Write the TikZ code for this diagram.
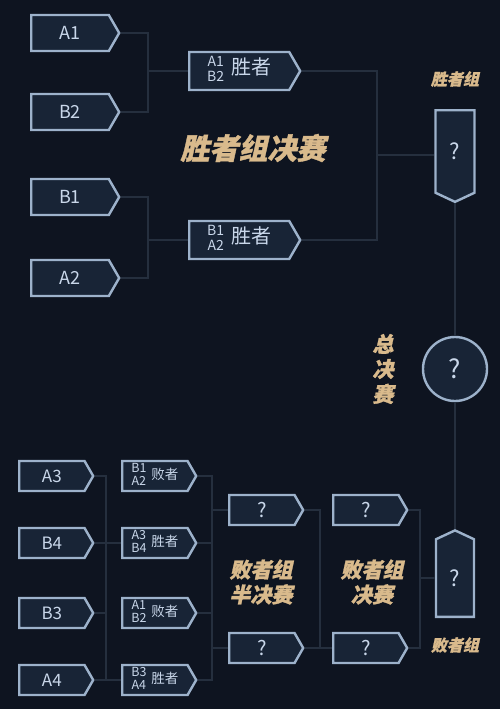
\documentclass[tikz,border=0pt]{standalone}
\usepackage{fontspec}
\setmainfont{Noto Sans CJK SC}
\newfontfamily\headfont[FakeSlant=0.22,BoldFeatures={FakeBold=1.2}]{Noto Sans CJK SC}
\usetikzlibrary{shapes.symbols}
\definecolor{night}{HTML}{0E1420}
\definecolor{slab}{HTML}{182436}
\definecolor{frost}{HTML}{9DB2CB}
\definecolor{wire}{HTML}{252F3E}
\definecolor{ink}{HTML}{C9D7EA}
\definecolor{sand}{HTML}{D9BA8C}
\newcommand{\pair}[2]{\begin{tabular}{@{}c@{}}#1\\#2\end{tabular}}

\begin{document}
\begin{tikzpicture}[x=1pt,y=-1pt,
    tag/.style={signal,signal to=east,signal pointer angle=120,draw=frost,fill=slab,
      line width=2.4pt,text=ink,inner sep=0pt,anchor=west},
    bigtag/.style={tag,minimum width=88pt,minimum height=36pt,font=\fontsize{18}{18}\selectfont},
    wintag/.style={tag,minimum width=111pt,minimum height=38pt},
    lowtag/.style={tag,minimum width=74pt,minimum height=30pt,font=\fontsize{17}{17}\selectfont},
    hook/.style={signal,signal pointer angle=130,draw=frost,fill=slab,line width=2.4pt,
      text=ink,inner sep=0pt,minimum width=39pt,font=\fontsize{22}{22}\selectfont},
    wire/.style={draw=wire,line width=1.6pt},
    head/.style={text=sand,font=\headfont\bfseries\fontsize{#1}{25}\selectfont,align=center},
    head/.default=21]

  \fill[night] (0,0) rectangle (500,709);

  % winners bracket
  \foreach \n/\y in {A1/33,B2/112,B1/197,A2/278}
    \node[bigtag] (\n) at (30,\y) {\n};
  \node[wintag] (W1) at (188,71) {\fontsize{14}{15}\selectfont\pair{A1}{B2}\hspace{7pt}\fontsize{20}{20}\selectfont 胜者};
  \node[wintag] (W2) at (188,240) {\fontsize{14}{15}\selectfont\pair{B1}{A2}\hspace{7pt}\fontsize{20}{20}\selectfont 胜者};
  \node[hook,signal to=south,anchor=north,minimum height=85pt] (WF) at (455,109) {?};
  \node[circle,draw=frost,fill=slab,line width=2.4pt,text=ink,minimum size=64pt,
    font=\fontsize{26}{26}\selectfont] (GF) at (455,369) {?};

  % losers bracket
  \foreach \n/\y in {A3/476,B4/543,B3/613,A4/680}
    \node[lowtag] (\n) at (18,\y) {\n};
  \foreach \i/\a/\b/\r/\y in {1/B1/A2/败者/476,2/A3/B4/胜者/543,3/A1/B2/败者/613,4/B3/A4/胜者/680}
    \node[lowtag] (L\i) at (121,\y) {\fontsize{12.5}{13}\selectfont\pair{\a}{\b}\hspace{5pt}\fontsize{13.5}{13.5}\selectfont\r};
  \node[lowtag,font=\fontsize{20}{20}\selectfont] (S1) at (228,510) {?};
  \node[lowtag,font=\fontsize{20}{20}\selectfont] (S2) at (228,648) {?};
  \node[lowtag,font=\fontsize{20}{20}\selectfont] (F1) at (332,510) {?};
  \node[lowtag,font=\fontsize{20}{20}\selectfont] (F2) at (332,648) {?};
  \node[hook,signal to=north,anchor=south,minimum width=38pt,minimum height=80pt] (LF) at (455,618) {?};

  % labels
  \node[head=29] (t1) at (253,148) {胜者组决赛};
  \node[head=16] (t2) at (455,79) {胜者组};
  \node[head,text width=22pt] (t3) at (383,369) {总\\决\\赛};
  \node[head] (t4) at (261,582) {败者组\\半决赛};
  \node[head] (t5) at (372,582) {败者组\\决赛};
  \node[head=16] (t6) at (455,645) {败者组};

  % connectors
  \coordinate (J1) at (148,71);
  \coordinate (J2) at (148,240);
  \coordinate (J3) at (377,155);
  \draw[wire] (A1.east) -| (J1) |- (B2.east);
  \draw[wire] (J1) -- (W1.west);
  \draw[wire] (B1.east) -| (J2) |- (A2.east);
  \draw[wire] (J2) -- (W2.west);
  \draw[wire] (W1.east) -| (J3) |- (W2.east);
  \draw[wire] (J3) -- (J3 -| WF.west);
  \draw[wire] (WF.south) -- (GF.north);
  \draw[wire] (GF.south) -- (LF.north);

  \coordinate (K1) at (106,680);
  \coordinate (K2) at (212,680);
  \coordinate (K3) at (320,648);
  \coordinate (K4) at (420,648);
  \draw[wire] (A3.east) -| (K1);
  \draw[wire] (B3.east) -- (B3.east -| K1);
  \draw[wire] (B4.east) -- (L2.west);
  \draw[wire] (A4.east) -- (L4.west);
  \draw[wire] (L1.east) -| (K2) -- (L4.east);
  \draw[wire] (L2.east) -- (L2.east -| K2);
  \draw[wire] (L3.east) -- (L3.east -| K2);
  \draw[wire] (S1.west -| K2) -- (S1.west);
  \draw[wire] (S2.west -| K2) -- (S2.west);
  \draw[wire] (S1.east) -| (K3);
  \draw[wire] (S2.east) -- (F2.west);
  \draw[wire] (F1.east) -| (K4) -- (F2.east);
  \draw[wire] (LF.west -| K4) -- (LF.west);
\end{tikzpicture}
\end{document}
